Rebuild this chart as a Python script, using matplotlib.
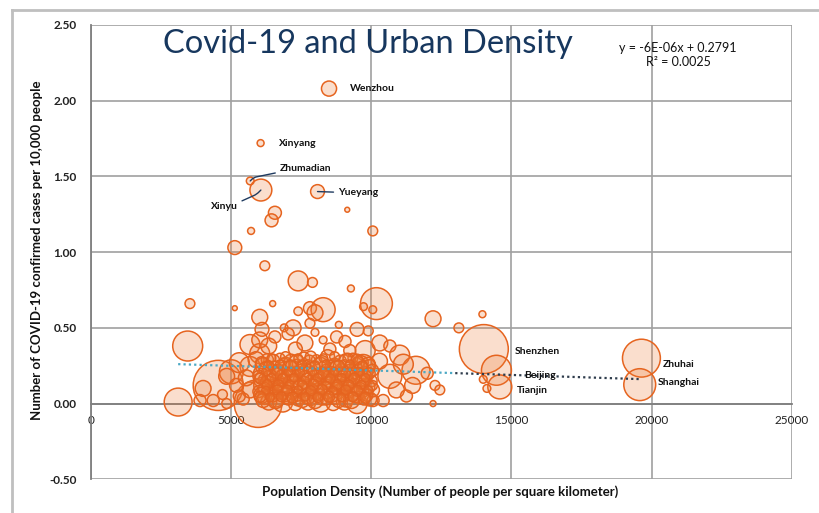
import matplotlib.pyplot as plt
import numpy as np
from matplotlib.lines import Line2D

plt.rcParams['font.family'] = ['Lato', 'DejaVu Sans']

# population density (people per km2), cases per 10,000 people, bubble value
density = [
    # labelled cities
    8500, 6060, 5690, 6070, 8090, 14020, 14470, 14590, 19640, 19580,
    # high outliers
    9150, 10060, 6570, 6450, 5720, 5140, 6210, 7400, 7910, 9280,
    3540, 5140, 6490, 6030, 7400, 7820, 8290, 8000, 10190, 10060, 9730,
    12210, 13970, 13130,
    # middle band
    3460, 6110, 6570, 6900, 7220, 7640, 7820, 8290, 8530, 8770,
    9070, 9500, 9240, 9790, 10310, 10670, 11020, 5680, 6030, 7040,
    8000, 9900, 7300, 6350, 8850,
    # right of the cluster
    11600, 10670, 10900, 11260, 10430, 10070, 9715, 11480, 12280, 12450,
    12210, 11150, 10300, 12000, 14000, 14130,
    # left of the cluster
    3120, 4550, 5970, 4010, 3900, 4370, 4850, 5440, 5680, 5680,
    5020, 4850, 5300, 5200, 4700, 5550, 5300, 6030, 5900,
    # dense cluster
    6300, 6750, 7150, 7600, 8050, 8450, 8900, 9350, 9650,
    6150, 6550, 6950, 7350, 7750, 8200, 8650, 9050, 9450, 9950,
    6050, 6450, 6850, 7250, 7700, 8100, 8550, 8950, 9350, 9800,
    6200, 6650, 7050, 7450, 7900, 8300, 8750, 9150, 9600, 10000,
    6100, 6500, 6900, 7300, 7750, 8150, 8600, 9000, 9400, 9850,
    6000, 6400, 6800, 7200, 7600, 8050, 8450, 8850, 9300, 9700,
    6200, 6600, 7000, 7400, 7850, 8250, 8700, 9100, 9550, 9950,
    6350, 6850, 7300, 7750, 8200, 8650, 9050, 9500,
    6700, 7500, 8400, 9200, 7900, 6900, 8800, 9600,
    6100, 6500, 6900, 7350, 7800, 8250, 8700, 9150, 9550, 9900,
    6250, 6700, 7100, 7500, 7950, 8400, 8800, 9250, 9650, 10050,
    6000, 6400, 6800, 7200, 7650, 8050, 8500, 8900, 9300, 9750,
    6300, 6750, 7150, 7600, 8000, 8450, 8850, 9250, 9700,
    6200, 6600, 7050, 7450, 7900, 8350, 8750, 9200, 9600, 10050,
    6100, 6500, 6950, 7350, 7750, 8150, 8600, 9000, 9450, 9850,
    6150, 6600, 7050, 7550, 8000, 8400, 8850, 9300, 9750,
    6450, 6950, 7400, 7850, 8300, 8700, 9150, 9500,
    6350, 6750, 7150, 7550, 8000, 8400, 8850, 9250, 9700,
    6250, 6650, 7050, 7450, 7900, 8300, 8700, 9100, 9550, 9950,
    6050, 6450, 6850, 7250, 7700, 8100, 8550, 8950, 9400, 9800,
    6300, 6700, 7100, 7550, 7950, 8400, 8800, 9200, 9650, 10050,
    6250, 6650, 7000, 7400, 7850, 8250, 8650, 9100, 9500, 9900,
    6050, 6400, 6800, 7200, 7650, 8100, 8500, 8950, 9350, 9800,
]
cases = [
    2.08, 1.72, 1.47, 1.41, 1.40, 0.36, 0.22, 0.11, 0.30, 0.125,
    1.28, 1.14, 1.26, 1.21, 1.14, 1.03, 0.91, 0.81, 0.80, 0.76,
    0.66, 0.63, 0.66, 0.57, 0.61, 0.63, 0.62, 0.60, 0.66, 0.62, 0.64,
    0.56, 0.59, 0.50,
    0.38, 0.49, 0.44, 0.50, 0.50, 0.40, 0.53, 0.42, 0.36, 0.44,
    0.41, 0.49, 0.35, 0.35, 0.40, 0.38, 0.32, 0.39, 0.33, 0.46,
    0.47, 0.48, 0.36, 0.38, 0.52,
    0.22, 0.18, 0.09, 0.05, 0.02, 0.02, 0.245, 0.12, 0.12, 0.09,
    0.00, 0.26, 0.28, 0.20, 0.16, 0.10,
    0.01, 0.12, 0.00, 0.10, 0.02, 0.02, 0.00, 0.03, 0.09, 0.245,
    0.21, 0.18, 0.27, 0.12, 0.06, 0.17, 0.05, 0.42, 0.29,
    0.29, 0.30, 0.28, 0.30, 0.29, 0.31, 0.28, 0.30, 0.27,
    0.25, 0.24, 0.26, 0.24, 0.25, 0.26, 0.24, 0.25, 0.23, 0.25,
    0.20, 0.21, 0.19, 0.20, 0.21, 0.19, 0.20, 0.21, 0.19, 0.20,
    0.16, 0.15, 0.17, 0.16, 0.15, 0.17, 0.16, 0.15, 0.16, 0.15,
    0.12, 0.11, 0.12, 0.13, 0.11, 0.12, 0.13, 0.11, 0.12, 0.11,
    0.08, 0.07, 0.08, 0.07, 0.09, 0.08, 0.07, 0.08, 0.07, 0.08,
    0.04, 0.03, 0.04, 0.03, 0.04, 0.03, 0.04, 0.03, 0.04, 0.03,
    0.01, 0.01, 0.00, 0.01, 0.01, 0.00, 0.01, 0.00,
    0.22, 0.14, 0.22, 0.09, 0.06, 0.05, 0.12, 0.21,
    0.27, 0.28, 0.26, 0.27, 0.28, 0.27, 0.26, 0.28, 0.27, 0.26,
    0.23, 0.22, 0.23, 0.22, 0.23, 0.22, 0.23, 0.22, 0.23, 0.22,
    0.18, 0.17, 0.18, 0.19, 0.18, 0.17, 0.18, 0.19, 0.18, 0.17,
    0.14, 0.13, 0.14, 0.14, 0.13, 0.14, 0.14, 0.13, 0.14,
    0.10, 0.09, 0.10, 0.10, 0.09, 0.10, 0.10, 0.09, 0.10, 0.09,
    0.055, 0.05, 0.06, 0.055, 0.05, 0.06, 0.055, 0.05, 0.06, 0.055,
    0.02, 0.02, 0.03, 0.02, 0.02, 0.03, 0.02, 0.02, 0.03,
    0.30, 0.31, 0.30, 0.31, 0.30, 0.31, 0.30, 0.29,
    0.25, 0.26, 0.25, 0.26, 0.25, 0.26, 0.25, 0.26, 0.25,
    0.21, 0.20, 0.21, 0.20, 0.21, 0.20, 0.21, 0.20, 0.21, 0.20,
    0.165, 0.17, 0.165, 0.17, 0.165, 0.17, 0.165, 0.17, 0.165, 0.17,
    0.125, 0.12, 0.125, 0.12, 0.125, 0.12, 0.125, 0.12, 0.125, 0.12,
    0.085, 0.09, 0.085, 0.09, 0.085, 0.09, 0.085, 0.09, 0.085, 0.09,
    0.045, 0.04, 0.045, 0.04, 0.045, 0.04, 0.045, 0.04, 0.045, 0.04,
]
bubble = [
    1.9, 0.4, 0.5, 4.0, 1.6, 20, 7.5, 4.8, 12, 8.5,
    0.2, 0.8, 1.4, 1.4, 0.4, 1.6, 0.8, 3.3, 0.8, 0.4,
    0.8, 0.2, 0.3, 2.1, 0.6, 1.4, 4.8, 2.1, 8.5, 0.5, 0.5,
    2.1, 0.4, 0.8,
    7.5, 1.6, 1.2, 0.5, 2.1, 2.1, 0.8, 0.5, 1.2, 1.2,
    1.2, 1.6, 1.2, 3.3, 2.1, 1.2, 3.3, 3.3, 3.3, 1.2,
    0.5, 0.8, 1.6, 2.1, 0.4,
    6.5, 4.8, 2.1, 1.2, 1.2, 1.2, 4.8, 2.1, 0.8, 0.8,
    0.3, 3.3, 2.1, 1.2, 0.5, 0.5,
    6.5, 21, 19, 2.1, 1.2, 1.2, 0.8, 1.2, 2.1, 3.3,
    4.8, 2.1, 3.3, 1.6, 0.8, 2.1, 1.2, 2.1, 2.1,
    1.2, 0.8, 1.6, 1.2, 0.8, 1.6, 1.2, 0.8, 1.6,
    2.1, 1.2, 1.6, 2.1, 1.2, 1.6, 2.1, 1.2, 1.6, 1.2,
    1.6, 2.1, 1.2, 1.6, 2.1, 1.2, 1.6, 2.1, 1.2, 1.6,
    1.2, 1.6, 2.1, 1.2, 1.6, 2.1, 1.2, 1.6, 2.1, 1.2,
    2.1, 1.2, 1.6, 2.1, 1.2, 1.6, 2.1, 1.2, 1.6, 2.1,
    1.2, 1.6, 2.1, 1.2, 1.6, 2.1, 1.2, 1.6, 2.1, 1.2,
    1.6, 2.1, 1.2, 1.6, 2.1, 1.2, 1.6, 2.1, 1.2, 1.6,
    2.1, 3.3, 1.6, 2.1, 3.3, 1.6, 2.1, 3.3,
    0.5, 0.5, 0.5, 0.5, 0.5, 0.5, 0.5, 0.5,
    1.2, 1.6, 1.2, 2.1, 1.2, 1.6, 1.2, 2.1, 1.2, 1.6,
    1.6, 1.2, 2.1, 1.2, 1.6, 1.2, 2.1, 1.2, 1.6, 1.2,
    1.2, 2.1, 1.2, 1.6, 1.2, 2.1, 1.2, 1.6, 1.2, 2.1,
    1.6, 1.2, 2.1, 1.2, 1.6, 1.2, 2.1, 1.2, 1.6,
    1.2, 1.6, 1.2, 2.1, 1.2, 1.6, 1.2, 2.1, 1.2, 1.6,
    2.1, 1.2, 1.6, 1.2, 2.1, 1.2, 1.6, 1.2, 2.1, 1.2,
    1.6, 2.1, 1.2, 1.6, 2.1, 1.2, 1.6, 2.1, 1.2,
    0.6, 0.8, 0.6, 1.0, 0.6, 0.8, 0.6, 1.0,
    0.8, 0.6, 1.0, 0.6, 0.8, 0.6, 1.0, 0.6, 0.8,
    0.6, 1.0, 0.6, 0.8, 0.6, 1.0, 0.6, 0.8, 0.6, 1.0,
    1.0, 0.6, 0.8, 0.6, 1.0, 0.6, 0.8, 0.6, 1.0, 0.6,
    0.8, 1.0, 0.6, 0.8, 1.0, 0.6, 0.8, 1.0, 0.6, 0.8,
    0.6, 0.8, 1.0, 0.6, 0.8, 1.0, 0.6, 0.8, 1.0, 0.6,
    1.0, 0.6, 0.8, 1.0, 0.6, 0.8, 1.0, 0.6, 0.8, 1.0,
]
city_names = ["Wenzhou", "Xinyang", "Zhumadian", "Xinyu", "Yueyang",
              "Shenzhen", "Beijing", "Tianjin", "Zhuhai", "Shanghai"]

slope = -6e-06
intercept = 0.2791
r_squared = 0.0025

x_ticks = [0, 5000, 10000, 15000, 20000, 25000]
y_ticks = [-0.5, 0.0, 0.5, 1.0, 1.5, 2.0, 2.5]

fig = plt.figure(figsize=(8.19, 5.13), dpi=100)
ax = fig.add_axes([0.1107, 0.0657, 0.856, 0.8856])

edge = '#E6641F'
face = (0.93, 0.47, 0.19, 0.24)
ax.scatter(density, cases, s=np.array(bubble) * 62, facecolors=[face],
           edgecolors=edge, linewidths=1.1, zorder=3)

# linear trendline from the equation shown on the chart
xmin, xmax = min(density), max(density)
xs = np.array([xmin, 13000])
ax.plot(xs, slope * xs + intercept, color='#4BA8C4', lw=1.6,
        ls=(0, (1, 1.4)), zorder=4)
xs = np.array([13000, xmax])
ax.plot(xs, slope * xs + intercept, color='#2E3C4C', lw=1.6,
        ls=(0, (1, 1.4)), zorder=4)

ax.set_xlim(0, 25000)
ax.set_ylim(-0.5, 2.5)
ax.set_xticks(x_ticks)
ax.set_xticklabels([str(t) for t in x_ticks])
ax.set_yticks(y_ticks)
ax.set_yticklabels(['%.2f' % t for t in y_ticks])
ax.grid(True, color='#A0A0A0', lw=1.2, zorder=0)
ax.set_axisbelow(True)
ax.tick_params(length=0, labelsize=8.5, labelcolor='#222222')
ax.tick_params(axis='x', pad=8)
ax.tick_params(axis='y', pad=10)
for lab in ax.get_yticklabels():
    lab.set_fontweight('bold')
ax.spines['top'].set_visible(False)
ax.spines['right'].set_visible(False)
ax.spines['bottom'].set_position(('data', 0))
for sp in ['left', 'bottom']:
    ax.spines[sp].set_color('#7F7F7F')
    ax.spines[sp].set_linewidth(1.3)

# city labels
label_style = dict(textcoords='offset points', fontsize=7.5,
                   fontweight='bold', color='#111111', va='center', zorder=6)
line_style = dict(arrowstyle='-', color='#1F3A5F', lw=1.0, shrinkA=1, shrinkB=0)
offsets = {
    "Wenzhou": (15, 0), "Xinyang": (13, 0), "Shenzhen": (22, -1.5),
    "Beijing": (20, -3.6), "Tianjin": (12, -2.4), "Zhuhai": (15, -4.3),
    "Shanghai": (12.7, 1.2),
}
for i, name in enumerate(city_names):
    pt = (density[i], cases[i])
    if name in offsets:
        ax.annotate(name, xy=pt, xytext=offsets[name], ha='left', **label_style)
    elif name == "Zhumadian":
        ax.annotate(name, xy=pt, xytext=(21, 9), ha='left',
                    arrowprops=dict(connectionstyle='arc,angleA=180,angleB=45,armA=8,armB=5,rad=3',
                                    **line_style), **label_style)
    elif name == "Xinyu":
        ax.annotate(name, xy=pt, xytext=(-16.5, -11.5), ha='right',
                    arrowprops=dict(connectionstyle='arc,angleA=0,angleB=225,armA=6,armB=6,rad=3',
                                    **line_style), **label_style)
    elif name == "Yueyang":
        ax.annotate(name, xy=pt, xytext=(14.5, -1), ha='left',
                    arrowprops=dict(**line_style), **label_style)

fig.text(0.199, 0.914, "Covid-19 and Urban Density", fontsize=23.5,
         color='#17375E', ha='left', va='center')
fig.text(0.828, 0.893, "y = -6E-06x + 0.2791\nR\u00b2 = 0.0025", fontsize=9,
         color='#111111', ha='center', va='center', linespacing=1.2)
fig.text(0.537, 0.041, "Population Density (Number of people per square kilometer)",
         fontsize=9.5, fontweight='bold', color='#111111', ha='center', va='center')
fig.text(0.045, 0.513, "Number of COVID-19 confirmed cases per 10,000 people",
         fontsize=9.5, fontweight='bold', color='#111111', ha='center',
         va='center', rotation=90)

# chart area border
fig.add_artist(Line2D([12 / 819, 12 / 819], [0, 1 - 10 / 513], color='#BFBFBF',
                      lw=2, transform=fig.transFigure))
fig.add_artist(Line2D([12 / 819, 1], [1 - 10 / 513, 1 - 10 / 513], color='#BFBFBF',
                      lw=2, transform=fig.transFigure))

fig.savefig('out.png', dpi=100)
